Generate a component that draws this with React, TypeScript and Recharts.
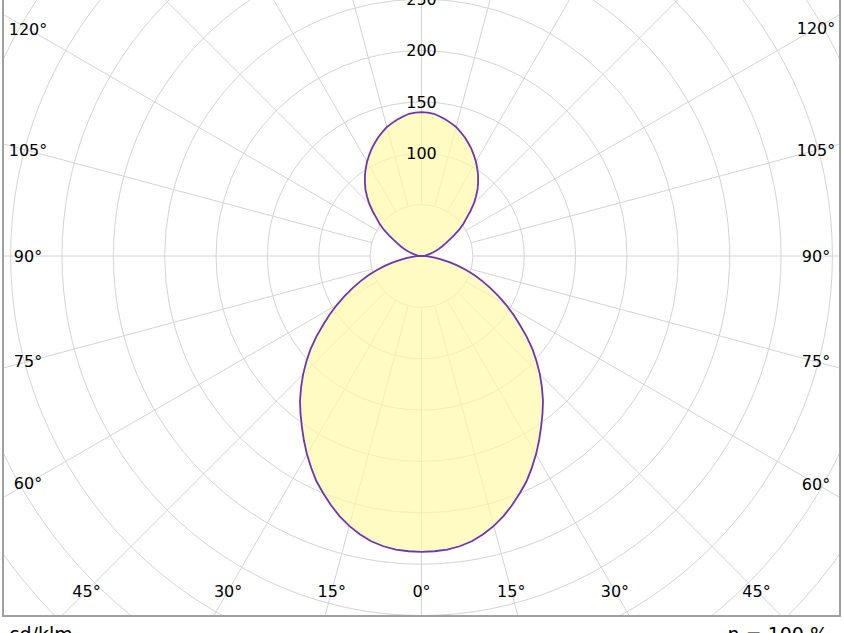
import React from 'react';
import { RadarChart, Radar, PolarGrid, PolarAngleAxis, PolarRadiusAxis } from 'recharts';

// Gamma angle (deg, 0 = straight down, 180 = straight up)
const gammaAngles = [
  0, 2.5, 5, 7.5, 10, 12.5, 15, 17.5, 20, 22.5, 25, 27.5, 30, 32.5, 35, 37.5, 40, 42.5, 45, 47.5,
  50, 52.5, 55, 57.5, 60, 62.5, 65, 67.5, 70, 72.5, 75, 77.5, 80, 82.5, 85, 87.5,
  90, 92.5, 95, 97.5, 100, 102.5, 105, 107.5, 110, 112.5, 115, 117.5, 120, 122.5, 125, 127.5,
  130, 132.5, 135, 137.5, 140, 142.5, 145, 147.5, 150, 152.5, 155, 157.5, 160, 162.5, 165, 167.5,
  170, 172.5, 175, 177.5, 180, 182.5, 185, 187.5, 190, 192.5, 195, 197.5, 200, 202.5, 205, 207.5,
  210, 212.5, 215, 217.5, 220, 222.5, 225, 227.5, 230, 232.5, 235, 237.5, 240, 242.5, 245, 247.5,
  250, 252.5, 255, 257.5, 260, 262.5, 265, 267.5, 270, 272.5, 275, 277.5, 280, 282.5, 285, 287.5,
  290, 292.5, 295, 297.5, 300, 302.5, 305, 307.5, 310, 312.5, 315, 317.5, 320, 322.5, 325, 327.5,
  330, 332.5, 335, 337.5, 340, 342.5, 345, 347.5, 350, 352.5, 355, 357.5,
];

// Luminous intensity (cd/klm)
const intensity = [
  288, 287.7, 287, 285, 282, 277.5, 272, 265.5, 258, 250, 242, 232.5, 223, 213, 203, 193.5, 184, 173.5, 163, 152,
  141, 129, 117, 106, 95, 84.5, 74, 64.5, 55, 46, 37, 28.5, 20, 14, 9, 4.5,
  0, 1, 2, 3.5, 5, 7, 9, 12, 15, 18.5, 22, 26.5, 31, 37.5, 45, 51.5,
  57, 64.5, 72, 78.5, 85, 90.5, 96, 101, 106, 110.5, 115, 119, 123, 126.5, 130, 132.5,
  135, 137, 139, 139.7, 140, 139.7, 139, 137, 135, 132.5, 130, 126.5, 123, 119, 115, 110.5,
  106, 101, 96, 90.5, 85, 78.5, 72, 64.5, 57, 51.5, 45, 37.5, 31, 26.5, 22, 18.5,
  15, 12, 9, 7, 5, 3.5, 2, 1, 0, 4.5, 9, 14, 20, 28.5, 37, 46,
  55, 64.5, 74, 84.5, 95, 106, 117, 129, 141, 152, 163, 173.5, 184, 193.5, 203, 213,
  223, 232.5, 242, 250, 258, 265.5, 272, 277.5, 282, 285, 287, 287.7,
];

const angleTicks = [0, 15, 30, 45, 60, 75, 90, 105, 120, 135, 150, 165, 180, 195, 210, 225, 240, 255, 270, 285, 300, 315, 330, 345];
const ringValues = [0, 50, 100, 150, 200, 250, 300, 350, 400, 450, 500, 550];
const ringLabels = [100, 150, 200, 250];
const unitLabel = 'cd/klm';
const efficiencyLabel = 'η = 100 %';

const data = gammaAngles.map((angle, i) => ({ angle, value: intensity[i] }));

const FONT = "'DejaVu Sans', Verdana, sans-serif";
const CHART_LEFT = 4;
const CHART_W = 835;
const CHART_H = 615;
const CX = 417.5;
const CY = 256;
const OUTER = 565;
const SPOKE_START = (50 / 550) * OUTER;
const LABEL_BOTTOM_Y = 591;
const LABEL_TOP_Y = -120;
const LABEL_LEFT_X = 24;
const LABEL_RIGHT_X = 812;
const GRID = '#d4d4d4';

function AngleTick(props: any) {
  const { payload } = props;
  const a = (Number(payload.coordinate) * Math.PI) / 180;
  const ux = Math.cos(a);
  const uy = -Math.sin(a);
  const ts: number[] = [];
  if (uy > 1e-6) ts.push((LABEL_BOTTOM_Y - CY) / uy);
  if (uy < -1e-6) ts.push((LABEL_TOP_Y - CY) / uy);
  if (ux > 1e-6) ts.push((LABEL_RIGHT_X - CX) / ux);
  if (ux < -1e-6) ts.push((LABEL_LEFT_X - CX) / ux);
  const t = Math.min(...ts);
  const v = Number(payload.value);
  const shown = v <= 180 ? v : 360 - v;
  return (
    <text x={CX + ux * t} y={CY + uy * t} dy="0.36em" textAnchor="middle" fontSize={16} fontFamily={FONT} fill="#000">
      {`${shown}°`}
    </text>
  );
}

function RadiusTick(props: any) {
  const { x, y, payload } = props;
  if (!ringLabels.includes(Number(payload.value))) return <g />;
  return (
    <text x={x} y={y} dy="0.36em" textAnchor="middle" fontSize={16} fontFamily={FONT} fill="#000">
      {payload.value}
    </text>
  );
}

const layer: React.CSSProperties = {
  position: 'absolute',
  left: CHART_LEFT,
  top: 0,
  width: CHART_W,
  height: CHART_H,
  overflow: 'hidden',
};

export default function App() {
  return (
    <div style={{ position: 'absolute', left: 0, top: 0, width: 844, height: 633, overflow: 'hidden', background: '#fff' }}>
      {/* spokes, starting at the 50 cd/klm ring */}
      <div style={layer}>
        <RadarChart
          width={CHART_W}
          height={CHART_H}
          cx={CX}
          cy={CY}
          innerRadius={SPOKE_START}
          outerRadius={OUTER}
          startAngle={-90}
          endAngle={270}
          data={data}
          margin={{ top: 0, right: 0, bottom: 0, left: 0 }}
        >
          <PolarGrid gridType="circle" polarRadius={[]} stroke={GRID} strokeWidth={1} />
          <PolarAngleAxis
            dataKey="angle"
            type="number"
            domain={[0, 360]}
            ticks={angleTicks}
            tick={false}
            axisLine={false}
            tickLine={false}
          />
          <PolarRadiusAxis type="number" domain={[0, 550]} tick={false} axisLine={false} tickLine={false} />
        </RadarChart>
      </div>
      {/* rings, lobes, labels */}
      <div style={layer}>
        <RadarChart
          width={CHART_W}
          height={CHART_H}
          cx={CX}
          cy={CY}
          innerRadius={0}
          outerRadius={OUTER}
          startAngle={-90}
          endAngle={270}
          data={data}
          margin={{ top: 0, right: 0, bottom: 0, left: 0 }}
        >
          <PolarGrid gridType="circle" radialLines={false} stroke={GRID} strokeWidth={1} />
          <PolarAngleAxis
            dataKey="angle"
            type="number"
            domain={[0, 360]}
            ticks={angleTicks}
            tick={<AngleTick />}
            axisLine={false}
            tickLine={false}
          />
          <Radar
            dataKey="value"
            stroke="#6f35b5"
            strokeWidth={1.8}
            fill="#FFF9A8"
            fillOpacity={0.7}
            isAnimationActive={false}
            dot={false}
          />
          <PolarRadiusAxis
            angle={90}
            type="number"
            domain={[0, 550]}
            ticks={ringValues}
            tick={<RadiusTick />}
            axisLine={false}
            tickLine={false}
          />
        </RadarChart>
      </div>
      <div
        style={{
          position: 'absolute',
          left: 2,
          top: -20,
          width: 839,
          height: 637,
          border: '2px solid #a0a0a0',
          boxSizing: 'border-box',
        }}
      />
      <svg style={{ position: 'absolute', left: 0, top: 0 }} width={844} height={633}>
        <text x={9} y={641} fontSize={19} fontFamily={FONT} fill="#000">{unitLabel}</text>
        <text x={828} y={641} textAnchor="end" fontSize={19} fontFamily={FONT} fill="#000">{efficiencyLabel}</text>
      </svg>
    </div>
  );
}
